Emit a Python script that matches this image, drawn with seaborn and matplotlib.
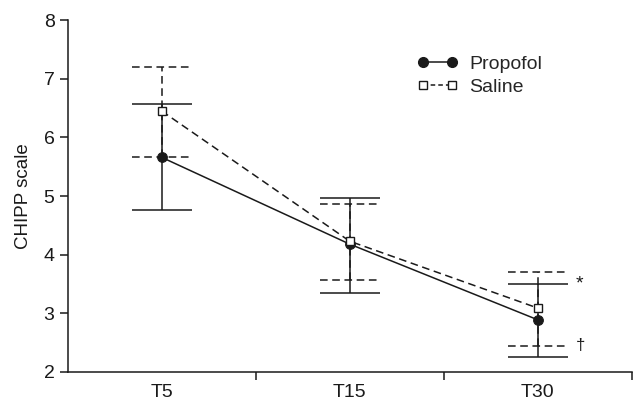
import numpy as np
import pandas as pd
import matplotlib
matplotlib.use('Agg')
import matplotlib.pyplot as plt
import seaborn as sns
from matplotlib.lines import Line2D

# Data
times = ['T5', 'T15', 'T30']
propofol_mean = [5.66, 4.18, 2.89]
propofol_low = [4.76, 3.35, 2.26]
propofol_high = [6.57, 4.97, 3.50]
saline_mean = [6.45, 4.23, 3.09]
saline_low = [5.66, 3.57, 2.45]
saline_high = [7.20, 4.87, 3.71]

sns.set_theme(style='ticks')
plt.rcParams['font.family'] = ['Liberation Sans', 'DejaVu Sans']

df = pd.DataFrame({
    'time': times * 2,
    'x': list(range(len(times))) * 2,
    'value': propofol_mean + saline_mean,
    'group': ['Propofol'] * 3 + ['Saline'] * 3,
})

ink = '#1a1a1a'
dash = (0, (5, 3))
fig = plt.figure(figsize=(6.33, 4.03), dpi=100)
ax = fig.add_axes([0.107, 0.077, 0.891, 0.873])

sns.lineplot(data=df, x='x', y='value', style='group', ax=ax,
             dashes={'Propofol': '', 'Saline': (5, 3)},
             markers={'Propofol': 'o', 'Saline': 's'},
             color=ink, linewidth=1.1, legend=False, zorder=3)

# marker fills
for line in ax.get_lines():
    if line.get_marker() == 's':
        line.set_markerfacecolor('white')
        line.set_markeredgecolor(ink)
        line.set_markersize(5.5)
        line.set_markeredgewidth(1.0)
    else:
        line.set_markerfacecolor(ink)
        line.set_markeredgecolor(ink)
        line.set_markersize(7)

xs = np.arange(len(times))
cap = 0.16
# error bars: saline dashed, propofol solid
ax.vlines(xs, saline_low, saline_high, colors=ink, linestyles=dash, linewidth=1.1, zorder=2)
ax.hlines(saline_low, xs - cap, xs + cap, colors=ink, linestyles=dash, linewidth=1.1, zorder=2)
ax.hlines(saline_high, xs - cap, xs + cap, colors=ink, linestyles=dash, linewidth=1.1, zorder=2)
ax.vlines(xs, propofol_low, propofol_high, colors=ink, linewidth=1.1, zorder=2)
ax.hlines(propofol_low, xs - cap, xs + cap, colors=ink, linewidth=1.1, zorder=2)
ax.hlines(propofol_high, xs - cap, xs + cap, colors=ink, linewidth=1.1, zorder=2)

# significance marks
ax.text(xs[2] + 0.2, propofol_high[2], '*', fontsize=14, color=ink, va='center', ha='left')
ax.text(xs[2] + 0.2, saline_low[2], '\u2020', fontsize=12, color=ink, va='center', ha='left')

ax.set_xlim(-0.5, 2.5)
ax.set_ylim(2, 8)
ax.set_yticks(range(2, 9))
ax.set_xticks([0.5, 1.5, 2.5])
ax.set_xticklabels([])
ax.set_xticks(xs, minor=True)
ax.set_xticklabels(times, minor=True)
ax.tick_params(axis='x', which='minor', length=0, pad=9, labelsize=14, labelcolor=ink)
ax.tick_params(axis='x', which='major', length=6, direction='out', width=1.1, color=ink)
ax.tick_params(axis='y', length=6, width=1.1, labelsize=14, color=ink, labelcolor=ink)
ax.set_xlabel('')
ax.set_ylabel('CHIPP scale', fontsize=13.5, color=ink, labelpad=8)
sns.despine(ax=ax)
for s in ['left', 'bottom']:
    ax.spines[s].set_linewidth(1.1)
    ax.spines[s].set_color(ink)

handles = [
    Line2D([0], [0], color=ink, lw=1.1, marker='o', markersize=7, markerfacecolor=ink),
    Line2D([0], [0], color=ink, lw=1.1, ls=(0, (3, 2)), marker='s', markersize=5.5, markerfacecolor='white'),
]
ax.legend(handles, ['Propofol', 'Saline'], loc='upper left', bbox_to_anchor=(0.588, 0.95),
          frameon=False, numpoints=2, handlelength=2.1, fontsize=14,
          handletextpad=0.6, labelspacing=0.3)

fig.savefig('out.png', dpi=100)
